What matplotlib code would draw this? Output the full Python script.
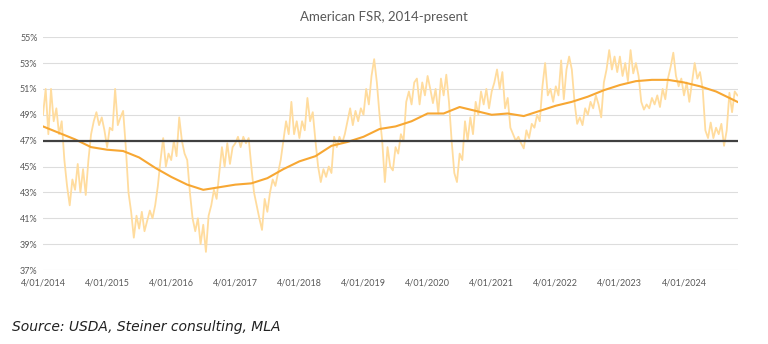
import numpy as np
import matplotlib.pyplot as plt

# Weekly-ish FSR readings, sampled twice a month (Jan 2014 - Nov 2024), in %
fsr_2014 = [49.0, 51.0, 47.5, 51.0, 48.5, 49.5, 47.5, 48.5, 45.5, 43.5, 42.0, 44.0,
            43.2, 45.2, 43.0, 44.8, 42.8, 45.5, 47.5, 48.5, 49.2, 48.2, 48.8, 47.8]
fsr_2015 = [46.5, 48.0, 47.8, 51.0, 48.2, 48.8, 49.3, 46.5, 43.0, 41.5, 39.5, 41.2,
            40.2, 41.5, 40.0, 40.8, 41.6, 41.0, 42.0, 43.5, 45.5, 47.2, 45.0, 46.0]
fsr_2016 = [45.5, 47.0, 45.8, 48.8, 47.0, 46.0, 45.5, 43.0, 41.0, 40.0, 41.0, 39.0,
            40.5, 38.4, 41.2, 42.0, 43.2, 42.5, 44.5, 46.5, 45.0, 46.8, 45.2, 46.5]
fsr_2017 = [46.8, 47.3, 46.5, 47.3, 46.8, 47.2, 45.0, 43.0, 42.0, 41.0, 40.1, 42.5,
            41.5, 43.0, 44.0, 43.5, 44.5, 45.5, 47.0, 48.5, 47.5, 50.0, 47.5, 48.5]
fsr_2018 = [47.2, 48.5, 47.8, 50.3, 48.5, 49.2, 47.0, 45.0, 43.8, 44.8, 44.2, 45.0,
            44.5, 47.3, 46.5, 47.3, 46.8, 47.5, 48.5, 49.5, 48.2, 49.3, 48.5, 49.5]
fsr_2019 = [49.0, 51.0, 49.8, 52.0, 53.3, 51.5, 49.0, 47.0, 43.8, 46.5, 45.0, 44.7,
            46.5, 46.0, 47.5, 47.0, 50.0, 50.8, 49.8, 51.5, 51.8, 49.8, 51.5, 50.5]
fsr_2020 = [52.0, 51.0, 49.9, 51.0, 49.1, 51.8, 50.5, 52.1, 50.0, 47.0, 44.5, 43.8,
            46.0, 45.5, 48.5, 47.0, 48.8, 47.5, 50.0, 49.0, 50.8, 49.8, 51.0, 49.5]
fsr_2021 = [50.8, 51.5, 52.5, 51.0, 52.3, 49.5, 50.3, 48.0, 47.5, 47.0, 47.3, 46.8,
            46.4, 47.8, 47.2, 48.3, 48.0, 49.0, 48.5, 51.2, 53.0, 50.5, 51.0, 50.0]
fsr_2022 = [51.2, 50.5, 53.2, 50.2, 52.5, 53.5, 52.5, 50.0, 48.3, 48.8, 48.2, 49.5,
            49.0, 50.0, 49.5, 50.5, 49.8, 48.8, 51.5, 52.5, 54.0, 52.5, 53.5, 52.3]
fsr_2023 = [53.5, 52.0, 53.0, 51.6, 54.0, 52.2, 53.0, 52.0, 50.0, 49.4, 49.8, 49.5,
            50.3, 49.8, 50.5, 49.6, 51.0, 50.2, 51.8, 52.7, 53.8, 52.0, 51.2, 51.8]
fsr_2024 = [50.5, 51.5, 50.0, 51.5, 53.0, 51.8, 52.3, 51.0, 47.8, 47.2, 48.4, 47.2,
            48.0, 47.5, 48.3, 46.6, 47.8, 50.7, 49.2, 50.8, 50.5]

# long moving average, read quarterly
ma_values = [48.1, 47.6, 47.1, 46.5, 46.3, 46.2, 45.7, 44.9, 44.2, 43.6, 43.2, 43.4,
             43.6, 43.7, 44.1, 44.8, 45.4, 45.8, 46.6, 46.9, 47.3, 47.9, 48.1, 48.5,
             49.1, 49.1, 49.6, 49.3, 49.0, 49.1, 48.9, 49.3, 49.7, 50.0, 50.4, 50.9,
             51.3, 51.6, 51.7, 51.7, 51.5, 51.2, 50.8, 50.2, 50.0]

benchmark = 47.0
years = list(range(2014, 2025))
tick_labels = ['4/01/%d' % y for y in years]

fsr = (fsr_2014 + fsr_2015 + fsr_2016 + fsr_2017 + fsr_2018 + fsr_2019 +
       fsr_2020 + fsr_2021 + fsr_2022 + fsr_2023 + fsr_2024)
x_fsr = 2014 + np.arange(len(fsr)) / 24.0
x_ma = 2014 + np.arange(len(ma_values)) / 4.0
x_ma[-1] = x_fsr[-1]

plt.rcParams['font.family'] = ['Lato', 'DejaVu Sans']

fig = plt.figure(figsize=(7.68, 3.44), dpi=100)
ax = fig.add_axes([0.056, 0.215, 0.905, 0.677])

ax.plot(x_fsr, fsr, color='#FFDC9E', lw=1.3, zorder=2)
ax.plot(x_ma, ma_values, color='#F7A733', lw=1.5, zorder=3)
ax.axhline(benchmark, color='#404040', lw=1.6, zorder=4)

ax.set_xlim(2014, x_fsr[-1] + 0.01)
ax.set_ylim(37, 55)
ax.set_yticks(range(37, 56, 2))
ax.set_yticklabels(['%d%%' % v for v in range(37, 56, 2)])
ax.set_xticks(years)
ax.set_xticklabels(tick_labels)
ax.grid(axis='y', color='#DDDDDD', lw=0.8)
ax.set_axisbelow(True)
for s in ax.spines.values():
    s.set_visible(False)
ax.tick_params(length=0, labelsize=6.5, colors='#595959')
ax.tick_params(axis='x', pad=6)
ax.tick_params(axis='y', pad=4)

fig.text(0.5, 0.95, 'American FSR, 2014-present', ha='center', va='center',
         fontsize=9.5, color='#595959')
fig.text(0.016, 0.05, 'Source: USDA, Steiner consulting, MLA', ha='left', va='center',
         fontsize=10, style='italic', color='#222222', family='DejaVu Sans')

fig.savefig('out.png', dpi=100)
